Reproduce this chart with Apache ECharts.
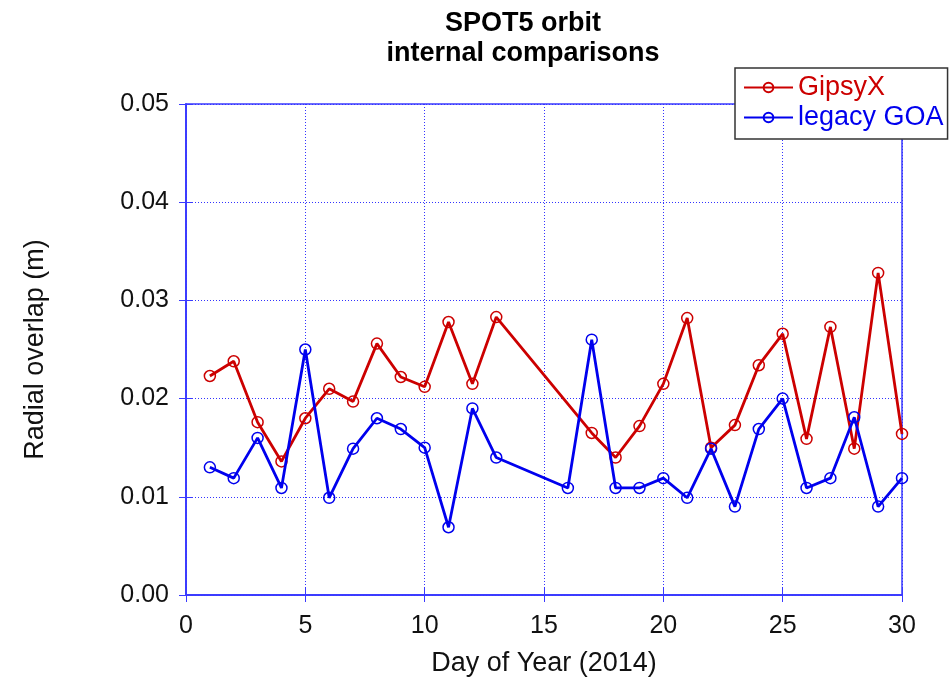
<!DOCTYPE html>
<html><head><meta charset="utf-8">
<script src="https://cdn.jsdelivr.net/npm/echarts@6/dist/echarts.min.js"></script>
<style>html,body{margin:0;padding:0;background:#fff}#c{width:949px;height:681px}</style>
</head><body><div id="c"></div>
<script>
var gipsyDays = [1,2,3,4,5,6,7,8,9,10,11,12,13,17,18,19,20,21,22,23,24,25,26,27,28,29,30];
var gipsyVals = [0.0223,0.0238,0.0176,0.0136,0.0180,0.0210,0.0197,0.0256,0.0222,0.0212,0.0278,0.0215,0.0283,0.0165,0.0140,0.0172,0.0215,0.0282,0.0150,0.0173,0.0234,0.0266,0.0159,0.0273,0.0149,0.0328,0.0164];
var goaDays = [1,2,3,4,5,6,7,8,9,10,11,12,13,16,17,18,19,20,21,22,23,24,25,26,27,28,29,30];
var goaVals = [0.0130,0.0119,0.0160,0.0109,0.0250,0.0099,0.0149,0.0180,0.0169,0.0150,0.0069,0.0190,0.0140,0.0109,0.0260,0.0109,0.0109,0.0119,0.0099,0.0149,0.0090,0.0169,0.0200,0.0109,0.0119,0.0181,0.0090,0.0119];
var yTicks = ['0.00','0.01','0.02','0.03','0.04','0.05'];
var titleText = 'SPOT5 orbit\ninternal comparisons';
var xName = 'Day of Year (2014)';
var yName = 'Radial overlap (m)';

function pairs(xs, ys){ return xs.map(function(x,i){ return [x, ys[i]]; }); }
var FONT = 'Liberation Sans, Arial, sans-serif';
var BLUE = '#3a3aff';
var RED = '#cc0000';
var SBLUE = '#0000ee';
var chart = echarts.init(document.getElementById('c'), null, {renderer:'canvas'});
var gridLine = {show:true, lineStyle:{color:'#3333ff', type:[1,2], width:1}};
chart.setOption({
  animation:false,
  backgroundColor:'#fff',
  title:{text:titleText, left:518, top:4, textAlign:'center',
    textStyle:{fontFamily:FONT, fontSize:27, fontWeight:'bold', color:'#000', lineHeight:30}},
  legend:{orient:'vertical', left:735, top:68,
    backgroundColor:'#fff', borderColor:'#333', borderWidth:1.5, padding:[6,4,8,8],
    itemWidth:49, itemHeight:12, itemGap:3,
    textStyle:{fontFamily:FONT, fontSize:27},
    data:[{name:'GipsyX', textStyle:{color:RED}},{name:'legacy GOA', textStyle:{color:SBLUE}}]},
  grid:{left:186, right:47, top:104, bottom:86, show:true, borderColor:BLUE, borderWidth:1.5,
    containLabel:false, outerBoundsMode:'none'},
  xAxis:[{type:'value', min:0, max:30, interval:5,
    name:xName, nameLocation:'middle', nameGap:55,
    nameTextStyle:{fontFamily:FONT, fontSize:27, color:'#111'},
    axisLine:{show:true, lineStyle:{color:BLUE, width:1.5}},
    axisTick:{show:true, inside:true, length:7, lineStyle:{color:BLUE}},
    axisLabel:{fontFamily:FONT, fontSize:25, color:'#111', margin:19},
    splitLine:gridLine},
    {type:'value', min:0, max:30, interval:5, position:'top',
    axisLine:{show:true, lineStyle:{color:BLUE, width:1.5}},
    axisTick:{show:true, inside:true, length:7, lineStyle:{color:BLUE}},
    axisLabel:{show:false}, splitLine:{show:false}}],
  yAxis:[{type:'value', min:0, max:0.05, interval:0.01,
    name:yName, nameLocation:'middle', nameGap:137,
    nameTextStyle:{fontFamily:FONT, fontSize:27, color:'#111'},
    axisLine:{show:true, lineStyle:{color:BLUE, width:1.5}},
    axisTick:{show:true, inside:true, length:7, lineStyle:{color:BLUE}},
    axisLabel:{fontFamily:FONT, fontSize:25, color:'#111', margin:17,
      formatter:function(v){ var i=Math.round(v*100); return yTicks[i]; }},
    splitLine:gridLine},
    {type:'value', min:0, max:0.05, interval:0.01, position:'right',
    axisLine:{show:true, lineStyle:{color:BLUE, width:1.5}},
    axisTick:{show:true, inside:true, length:7, lineStyle:{color:BLUE}},
    axisLabel:{show:false}, splitLine:{show:false}}],
  series:[
    {name:'GipsyX', type:'line', data:pairs(gipsyDays,gipsyVals),
      symbol:'circle', symbolSize:11, color:RED,
      lineStyle:{width:2.8, color:RED}, itemStyle:{color:'rgba(255,255,255,0)', borderColor:RED, borderWidth:1.5}, z:3},
    {name:'legacy GOA', type:'line', data:pairs(goaDays,goaVals),
      symbol:'circle', symbolSize:11, color:SBLUE,
      lineStyle:{width:2.8, color:SBLUE}, itemStyle:{color:'rgba(255,255,255,0)', borderColor:SBLUE, borderWidth:1.5}, z:4}
  ]
});
</script></body></html>
